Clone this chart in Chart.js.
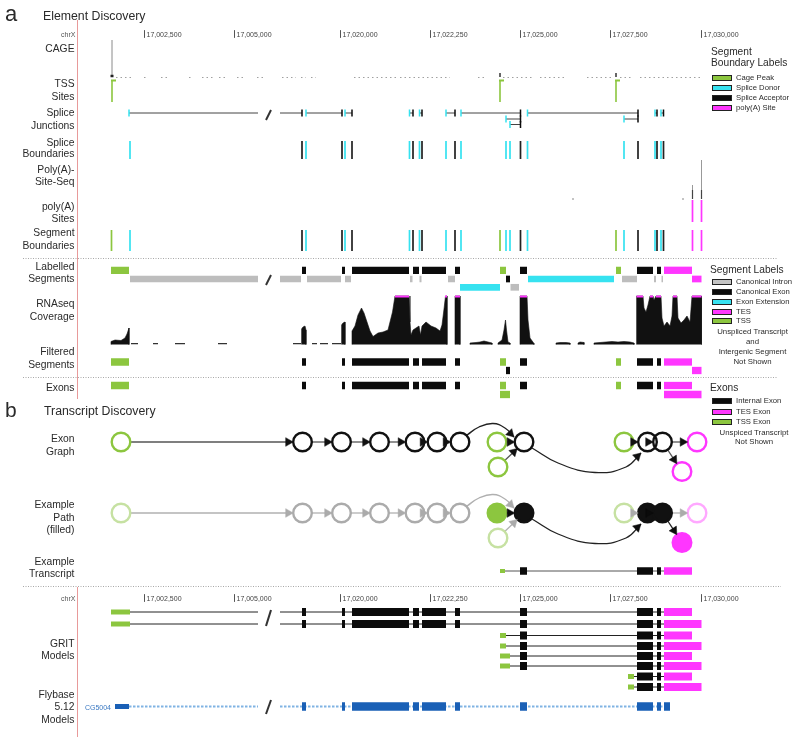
<!DOCTYPE html>
<html>
<head>
<meta charset="utf-8">
<title>Element and transcript discovery</title>
<script src="https://cdn.jsdelivr.net/npm/chart.js@4.4.1/dist/chart.umd.min.js"></script>
<style>
  html, body { margin: 0; padding: 0; background: #fff; }
  #fig { position: relative; width: 800px; height: 744px; overflow: hidden;
         font-family: "Liberation Sans", Arial, Helvetica, sans-serif; color: #2a2a2a; }
  #fig canvas { position: absolute; left: 0; top: 0; }
  .lbl { position: absolute; white-space: nowrap; line-height: 1; transform: translateY(-50%); }
  .sw { position: absolute; box-sizing: border-box; width: 20px; height: 6px; border: 1px solid #222; transform: translateY(-50%); }
</style>
</head>
<body>
<div id="fig"><canvas id="c" width="800" height="744"></canvas></div>
<script>
// ---- coordinate axis (track units, broken between 17,005,000 and 17,020,000) ----
const tickPos = [144.5, 234.5, 340.5, 430.5, 520.5, 610.5, 701.5];
const tickLabels = ['17,002,500', '17,005,000', '17,020,000', '17,022,250', '17,025,000', '17,027,500', '17,030,000'];
const axisBreak = [258, 280];

// ---- element discovery ----
const cagePeaks = [112, 500, 616];
const cageHeights = [37, 4, 4];
const cageNoise = [[116,131],[144,147],[161,168],[189,192],[202,214],[219,228],[237,244],[257,263],[282,296],[301,306],[311,316],[354,398],[400,450],[478,486],[503,534],[540,567],[587,614],[620,631],[640,700]];
const tssSites = [112, 500, 616];
const donors = [130, 306, 345, 409.5, 419.5, 446, 461, 506, 510, 527.5, 624, 655, 661];
const acceptors = [302, 342, 352, 413, 422, 455, 520.5, 638, 657, 663.5];
const junctionsA = [[129,302],[306,342],[345,352],[409.5,413],[419.5,422],[446,455],[461,520.5],[527.5,638],[655,657],[661,663.5]];
const junctionsB = [[506,520.5],[624,638]];
const junctionsC = [[510,520.5]];
const polyASites = [692.5, 701.5];
const polyASeqHeights = [14, 39];
const polyASeqNoise = [[572,574],[682,684]];
const boundaryTss = [111.5, 500, 616];

const tssSegs = [[111,129],[500,506],[616,621]];
const exonSegs = [[302,306],[342,345],[352,409],[413,419],[422,446],[455,460],[520,527],[637,653],[657,661]];
const tesSegs = [[664,692]];
const intronSegs = [[130,301],[307,341],[345,351],[410,412.5],[419.5,421.5],[448,455],[622,637],[654,656],[661.5,663]];
const extSegs = [[528,614]];
const extSegs2 = [[460,500]];
const intronSegs2 = [[510.5,519]];
const altExon = [[506,510]];
const tesTail = [[692,701.5]];
const tssLong = [[500,510]];
const tesLong = [[664,701.5]];

// RNAseq coverage: [x, top] per block
const covBlocks = [
  [[111,341.5],[115,340],[121,340.5],[125,338],[127,334],[129,328]],
  [[301.5,329],[303,327],[305,326],[306,330]],
  [[341.5,325],[343,323],[345,322]],
  [[352,331],[355,326],[358,315],[361.5,308],[364,313],[367,322],[370,331],[373,336.5],[378,333],[383,332],[388,330],[392.5,312],[395,296],[409,296],[410,322],[411,335],[413,330],[416,328],[419,326],[420.5,335],[422,326],[426,322],[431,326],[436,328],[440,331],[442,325],[444,309],[445.5,296],[447,296]],
  [[455,296],[460,296]],
  [[470,343],[476,342.5],[480,342],[484,341],[488,342],[492,343]],
  [[498,343],[502,340],[504,330],[505.5,320],[506.5,330],[508,342],[510,343]],
  [[520,296],[527,296],[528,320],[530,338],[534,343.5]],
  [[556,343],[560,342.5],[566,342.5],[570,343]],
  [[578,343],[580,342],[584,342.5]],
  [[594,343],[600,342.5],[606,342],[612,341.5],[618,342],[624,341.5],[630,342],[634,343]],
  [[636.5,296],[643,296],[644,308],[646,312],[648,305],[650,296],[653,296],[654,300],[656,296],[661,296],[662,318],[664,326],[667,322],[670,326],[672,316],[673,296],[677,296],[678,318],[681,323],[684,320],[687,316],[690,322],[692,296],[701.5,296]]
];
const covLow = [[131,138],[153,158],[175,185],[218,227],[293,301],[312,317],[320,328],[332,341]];
const covClip = [[395,409],[445,447],[455,460],[520,527],[636.5,643],[650,653],[656,661],[673,677],[692,701.5]];

// ---- transcript discovery ----
const nodeX = [121, 302.5, 341.5, 379.5, 415, 437, 460, 497, 498, 524, 624, 647.5, 662.5, 697, 682];
const nodeDrop = [0, 0, 0, 0, 0, 0, 0, 0, 25, 0, 0, 0, 0, 0, 29.5];
const nodeKind = ['tss','int','int','int','int','int','int','tss','tss','int','tss','int','int','tes','tes'];
const pathNodes = [7, 9, 11, 12, 14];
const edges = [[0,1],[1,2],[2,3],[3,4],[4,5],[5,6],[6,9],[7,9],[8,9],[9,11],[10,11],[11,12],[12,13],[12,14]];
const curveA = [[467,-7],[479,-15],[493,-18.5],[505,-14],[514,-5]];
const curveB = [[532,6],[558,21],[595,30.5],[626,25],[641,11]];

const txTss = [[500,505]];
const txExons = [[520,527],[637,653],[657,661]];
const txTes = [[664,692]];

// ---- models ----
const gritTss = [[111,130],[111,130],[500,506],[500,506],[500,510],[500,510],[628,634],[628,634]];
const gritTes = [[664,692],[664,701.5],[664,692],[664,701.5],[664,692],[664,701.5],[664,692],[664,701.5]];
const flyUtr = [[115,129]];
const flyExons = [[302,306],[342,345],[352,409],[413,419],[422,446],[455,460],[520,527],[637,653],[657,661],[664,670]];

const COL = {
  green: '#8cc63f', cyan: '#36e2f0', black: '#0b0b0b', magenta: '#ff36ff', gray: '#bdbdbd',
  blue: '#1a60b6', lblue: '#80b3e3', red: '#e89a9a', rule: '#a8a8a8', line: '#3a3a3a',
  lgreen: '#c6e1a2', lgray: '#ababab', lmagenta: '#ffa8ff'
};

const ROW = {
  tick: 34, tickB: 598, cage: 77, tss: [80, 102], junc: [113, 119, 124.5], splice: [141, 159],
  polySeq: 199, polyA: [200, 222], segB: [230, 251],
  lab: [270.3, 279, 287.3], cov: 344.5, filt: [362, 370.5], exon: [385.5, 394.5],
  graph: 442, path: 513, tx: 571, grit: [612, 624, 635.5, 646, 656, 666, 676.5, 687], fly: 706.5
};

const ds = [];
function add(d) {
  ds.push(Object.assign({ pointRadius: 0, borderCapStyle: 'butt', spanGaps: false, fill: false, tension: 0 }, d));
}
function segs(list, y) {
  const out = [];
  list.forEach(([a, b]) => out.push({ x: a, y }, { x: b, y }, { x: b, y: null }));
  return out;
}
function vlines(xs, y1, y2) {
  const out = [];
  xs.forEach(x => out.push({ x, y: y1 }, { x, y: y2 }, { x, y: null }));
  return out;
}
function cut(list) {
  const out = [];
  list.forEach(([a, b]) => {
    if (a < axisBreak[0] && b > axisBreak[1]) out.push([a, axisBreak[0]], [axisBreak[1], b]);
    else out.push([a, b]);
  });
  return out;
}
const boxes = (list, y, h, color) => add({ data: segs(list, y), borderColor: color, borderWidth: h });
const ticks = (xs, y1, y2, color, w) => add({ data: vlines(xs, y1, y2), borderColor: color, borderWidth: w || 1.7 });
const rule = (list, y, color, w, dash) => add({ data: segs(list, y), borderColor: color, borderWidth: w || 1, borderDash: dash || [] });
const slash = (y, h) => add({ data: [{ x: 266, y: y + h }, { x: 271, y: y - h }], borderColor: '#333', borderWidth: 2 });

// frame lines
add({ data: [{ x: 77.5, y: 20 }, { x: 77.5, y: 399 }, { x: 77.5, y: null }, { x: 77.5, y: 587 }, { x: 77.5, y: 737 }], borderColor: COL.red, borderWidth: 1 });
rule([[23, 777]], 258.5, COL.rule, 1, [1, 1.5]);
rule([[23, 777]], 377.5, COL.rule, 1, [1, 1.5]);
rule([[23, 781]], 586.5, COL.rule, 1, [1, 1.5]);
ticks(tickPos, ROW.tick - 3.5, ROW.tick + 3.5, '#555', 1);
ticks(tickPos, ROW.tickB - 3.5, ROW.tickB + 3.5, '#555', 1);

// CAGE
rule(cageNoise, ROW.cage + 0.5, '#a0a0a0', 1, [1.5, 3]);
cagePeaks.forEach((x, i) => ticks([x], ROW.cage, ROW.cage - cageHeights[i], i ? '#333' : '#8a8a8a', i ? 1.5 : 1));
boxes([[110.5, 113.5]], ROW.cage - 1, 2.5, '#222');

// TSS sites
ticks(tssSites, ROW.tss[0], ROW.tss[1], COL.green, 1.6);
boxes(tssSites.map(x => [x - 1, x + 4]), ROW.tss[0] + 0.5, 2, COL.green);

// splice junctions
[junctionsA, junctionsB, junctionsC].forEach((list, r) => {
  const y = ROW.junc[r];
  rule(cut(list), y, '#444', 1);
  ticks(list.map(j => j[0]), y - 3.5, y + 3.5, COL.cyan, 1.5);
  ticks(list.map(j => j[1]), y - 3.5, y + 3.5, COL.black, 1.5);
});
slash(115, 5);

// splice boundaries
ticks(donors, ROW.splice[0], ROW.splice[1], COL.cyan);
ticks(acceptors, ROW.splice[0], ROW.splice[1], '#222');

// poly(A) site seq and sites
polyASites.forEach((x, i) => {
  ticks([x], ROW.polySeq, ROW.polySeq - polyASeqHeights[i], '#999', 1);
  ticks([x], ROW.polySeq, ROW.polySeq - Math.min(9, polyASeqHeights[i]), '#444', 1.2);
});
boxes(polyASeqNoise, ROW.polySeq, 1, '#888');
ticks(polyASites, ROW.polyA[0], ROW.polyA[1], COL.magenta);

// segment boundaries
ticks(boundaryTss, ROW.segB[0], ROW.segB[1], COL.green);
ticks(donors, ROW.segB[0], ROW.segB[1], COL.cyan);
ticks(acceptors, ROW.segB[0], ROW.segB[1], '#222');
ticks(polyASites, ROW.segB[0], ROW.segB[1], COL.magenta);

// labelled segments
boxes(tssSegs, ROW.lab[0], 7.3, COL.green);
boxes(exonSegs, ROW.lab[0], 7.3, COL.black);
boxes(tesSegs, ROW.lab[0], 7.3, COL.magenta);
boxes(cut(intronSegs), ROW.lab[1], 6.7, COL.gray);
boxes(altExon, ROW.lab[1], 6.7, COL.black);
boxes(extSegs, ROW.lab[1], 6.7, COL.cyan);
boxes(tesTail, ROW.lab[1], 6.7, COL.magenta);
boxes(extSegs2, ROW.lab[2], 6.7, COL.cyan);
boxes(intronSegs2, ROW.lab[2], 6.7, COL.gray);
slash(280, 5);

// RNAseq coverage
covBlocks.forEach(block => {
  const pts = block.map(([x, y]) => ({ x, y }));
  pts.unshift({ x: block[0][0], y: ROW.cov });
  pts.push({ x: block[block.length - 1][0], y: ROW.cov });
  add({ data: pts, borderColor: '#111', borderWidth: 0.6, backgroundColor: '#111', fill: { value: ROW.cov } });
});
rule(covLow, ROW.cov - 0.8, '#333', 1.2);
boxes(covClip, 296.5, 2, COL.magenta);

// filtered segments
boxes(tssSegs, ROW.filt[0], 7.3, COL.green);
boxes(exonSegs, ROW.filt[0], 7.3, COL.black);
boxes(tesSegs, ROW.filt[0], 7.3, COL.magenta);
boxes(altExon, ROW.filt[1], 7.3, COL.black);
boxes(tesTail, ROW.filt[1], 7.3, COL.magenta);

// exons
boxes(tssSegs, ROW.exon[0], 7.3, COL.green);
boxes(exonSegs, ROW.exon[0], 7.3, COL.black);
boxes(tesSegs, ROW.exon[0], 7.3, COL.magenta);
boxes(tssLong, ROW.exon[1], 7.3, COL.green);
boxes(tesLong, ROW.exon[1], 7.3, COL.magenta);

// exon graph / example path
function norm(dx, dy) { const l = Math.hypot(dx, dy); return { x: dx / l, y: dy / l }; }
function drawGraph(y0, isPath) {
  const R = 9.3, A = 5;
  const ny = i => y0 + nodeDrop[i];
  const on = i => pathNodes.includes(i);
  const heads = [];
  edges.forEach(([a, b], k) => {
    const sel = on(a) && on(b);
    const col = isPath ? (sel ? COL.black : COL.lgray) : '#111';
    const lineCol = isPath ? (sel ? '#222' : '#b0b0b0') : '#555';
    const curve = k === 6 ? curveA : k === 9 ? curveB : null;
    let tip, dir;
    if (curve) {
      const pts = curve.map(([x, dy]) => ({ x, y: y0 + dy }));
      add({ data: pts, borderColor: isPath ? lineCol : '#222', borderWidth: 1.3, tension: 0.45 });
      const p = pts[pts.length - 2], q = pts[pts.length - 1];
      tip = q; dir = norm(q.x - p.x, q.y - p.y);
    } else {
      const ax = nodeX[a], ay = ny(a), bx = nodeX[b], by = ny(b);
      dir = norm(bx - ax, by - ay);
      const s = { x: ax + dir.x * R, y: ay + dir.y * R };
      tip = { x: bx - dir.x * R, y: by - dir.y * R };
      if ((tip.x - s.x) * dir.x + (tip.y - s.y) * dir.y > A) {
        add({ data: [s, { x: tip.x - dir.x * A, y: tip.y - dir.y * A }], borderColor: lineCol, borderWidth: 1.3 });
      }
    }
    heads.push({ x: tip.x - dir.x * A, y: tip.y - dir.y * A, rot: Math.atan2(dir.y, dir.x) * 180 / Math.PI + 90, col });
  });
  const kindCol = { tss: COL.green, int: '#111', tes: COL.magenta };
  const lightCol = { tss: COL.lgreen, int: COL.lgray, tes: COL.lmagenta };
  add({
    data: nodeX.map((x, i) => ({ x, y: ny(i) })), showLine: false,
    pointRadius: R, pointBorderWidth: 2.4,
    pointBorderColor: nodeKind.map((k, i) => isPath && !on(i) ? lightCol[k] : kindCol[k]),
    pointBackgroundColor: nodeKind.map((k, i) => isPath && on(i) ? kindCol[k] : 'rgba(0,0,0,0)')
  });
  add({
    data: heads.map(h => ({ x: h.x, y: h.y })), showLine: false, pointStyle: 'triangle',
    pointRadius: A, pointRotation: heads.map(h => h.rot), pointBorderWidth: 0.5,
    pointBackgroundColor: heads.map(h => h.col), pointBorderColor: heads.map(h => h.col)
  });
}
drawGraph(ROW.graph, false);
drawGraph(ROW.path, true);

// example transcript
rule([[txTss[0][1], txTes[0][0]]], ROW.tx, '#555', 1);
boxes(txTss, ROW.tx, 4, COL.green);
boxes(txExons, ROW.tx, 7.5, COL.black);
boxes(txTes, ROW.tx, 7.5, COL.magenta);

// GRIT models
gritTss.forEach((tss, i) => {
  const y = ROW.grit[i], tes = gritTes[i];
  rule(cut([[tss[1], tes[0]]]), y, '#222', 1);
  boxes([tss], y, 5, COL.green);
  boxes(exonSegs.filter(e => e[0] > tss[1]), y, 8, COL.black);
  boxes([tes], y, 8, COL.magenta);
});
slash(618, 8);

// Flybase models
rule(cut([[129, 664]]), ROW.fly, COL.lblue, 2.2, [2.5, 1.5]);
boxes(flyUtr, ROW.fly, 5, COL.blue);
boxes(flyExons, ROW.fly, 8.3, COL.blue);
slash(707, 7);

ds.forEach((d, i) => { d.order = ds.length - i; });

new Chart(document.getElementById('c'), {
  type: 'line',
  data: { datasets: ds },
  options: {
    responsive: false, animation: false, events: [],
    layout: { padding: 0, autoPadding: false },
    plugins: { legend: { display: false }, tooltip: { enabled: false } },
    scales: {
      x: { type: 'linear', min: 0, max: 800, display: false },
      y: { type: 'linear', min: 0, max: 744, reverse: true, display: false }
    }
  }
});

// ---- text ----
const fig = document.getElementById('fig');
function text(t, x, y, size, align, color) {
  const el = document.createElement('div');
  el.className = 'lbl';
  el.textContent = t;
  el.style.fontSize = size + 'px';
  el.style.top = y + 'px';
  if (align === 'right') el.style.right = (800 - x) + 'px';
  else if (align === 'center') { el.style.left = x + 'px'; el.style.transform = 'translate(-50%,-50%)'; }
  else el.style.left = x + 'px';
  if (color) el.style.color = color;
  fig.appendChild(el);
}
function swatch(x, y, color) {
  const el = document.createElement('div');
  el.className = 'sw';
  el.style.left = x + 'px'; el.style.top = y + 'px'; el.style.background = color;
  fig.appendChild(el);
}

text('a', 5, 13.5, 22);
text('Element Discovery', 43, 16, 12.3);
text('b', 5, 408.5, 21);
text('Transcript Discovery', 44, 411, 12.3);

[[ROW.tick], [ROW.tickB]].forEach(([y]) => {
  text('chrX', 75.5, y, 7, 'right', '#555');
  tickPos.forEach((x, i) => text(tickLabels[i], x + 2, y, 7, 'left', '#444'));
});

const rowText = [
  ['CAGE', 49], ['TSS', 84], ['Sites', 97], ['Splice', 113], ['Junctions', 126],
  ['Splice', 142.7], ['Boundaries', 154.3], ['Poly(A)-', 170], ['Site-Seq', 181.7],
  ['poly(A)', 207], ['Sites', 218.7], ['Segment', 232.7], ['Boundaries', 245.7],
  ['Labelled', 267.3], ['Segments', 279.3], ['RNAseq', 304], ['Coverage', 317],
  ['Filtered', 352.3], ['Segments', 365], ['Exons', 388],
  ['Exon', 439], ['Graph', 451.7], ['Example', 505], ['Path', 517.7], ['(filled)', 530],
  ['Example', 561.7], ['Transcript', 574.3],
  ['GRIT', 644], ['Models', 656], ['Flybase', 695], ['5.12', 707.3], ['Models', 720]
];
rowText.forEach(([t, y]) => text(t, 74.5, y, 10.3, 'right', '#2a2a2a'));
text('CG5004', 111, 706.5, 7, 'right', '#3a78c2');

// legends
const legBoundary = [['Cage Peak', COL.green], ['Splice Donor', COL.cyan], ['Splice Acceptor', COL.black], ['poly(A) Site', COL.magenta]];
const legSegment = [['Canonical Intron', '#c4c4c4'], ['Canonical Exon', COL.black], ['Exon Extension', COL.cyan], ['TES', COL.magenta], ['TSS', COL.green]];
const legExon = [['Internal Exon', COL.black], ['TES Exon', COL.magenta], ['TSS Exon', COL.green]];

text('Segment', 711, 51.7, 10.2);
text('Boundary Labels', 711, 63.3, 10.2);
[77.5, 87.5, 97.5, 107.5].forEach((y, i) => { swatch(712, y, legBoundary[i][1]); text(legBoundary[i][0], 736, y, 7.7); });

text('Segment Labels', 710, 270, 10.2);
[282, 292, 301.7, 311.7, 321].forEach((y, i) => { swatch(712, y, legSegment[i][1]); text(legSegment[i][0], 736, y, 7.7); });
[['Unspliced Transcript', 331.7], ['and', 341.7], ['Intergenic Segment', 351.7], ['Not Shown', 361.7]]
  .forEach(([t, y]) => text(t, 752.5, y, 7.8, 'center'));

text('Exons', 710, 388.3, 10.2);
[400.5, 411.7, 421.7].forEach((y, i) => { swatch(712, y, legExon[i][1]); text(legExon[i][0], 736, y, 7.7); });
[['Unspiced Transcript', 432.7], ['Not Shown', 442.3]].forEach(([t, y]) => text(t, 754, y, 7.8, 'center'));
</script>
</body>
</html>
